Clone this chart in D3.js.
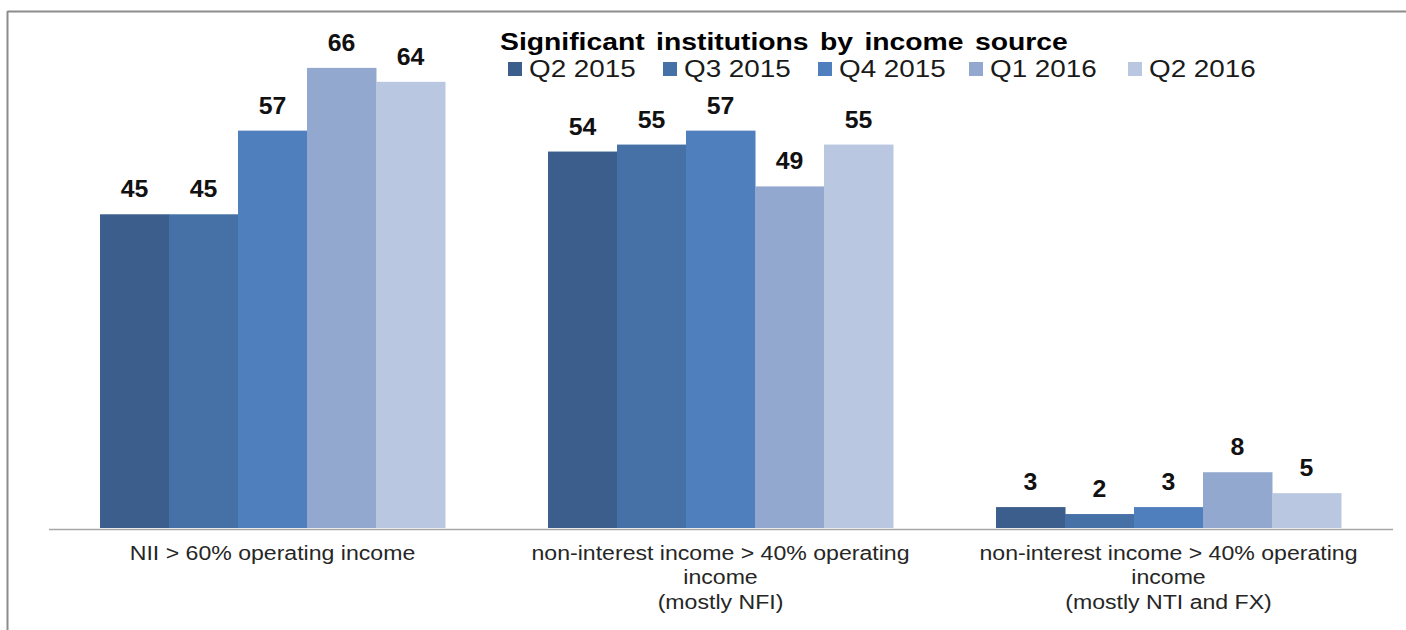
<!DOCTYPE html>
<html>
<head>
<meta charset="utf-8">
<script src="https://cdn.jsdelivr.net/npm/d3@7"></script>
<style>
  html, body { margin: 0; padding: 0; background: #fff; }
  svg { display: block; font-family: Arial, "Liberation Sans", sans-serif; }
</style>
</head>
<body>
<svg id="chart" width="1406" height="630"></svg>
<script>
// Income-source categories (multi-line labels)
const categories = [
  ["NII > 60% operating income"],
  ["non-interest income > 40% operating", "income", "(mostly NFI)"],
  ["non-interest income > 40% operating", "income", "(mostly NTI and FX)"]
];
const categoryKeys = ["nii", "nfi", "ntifx"];

// Quarters shown in the legend
const quarters = ["Q2 2015", "Q3 2015", "Q4 2015", "Q1 2016", "Q2 2016"];

// Number of significant institutions per quarter, one array per category
const niiValues   = [45, 45, 57, 66, 64];
const nfiValues   = [54, 55, 57, 49, 55];
const ntifxValues = [3, 2, 3, 8, 5];

const seriesColors = ["#3b5e8c", "#4571a6", "#4f7fbd", "#93a8cf", "#b9c7e1"];

const chartTitle = "Significant institutions by income source";

const valuesByCategory = [niiValues, nfiValues, ntifxValues];

const svg = d3.select("#chart");

// Frame lines along the top and left
svg.append("line").attr("x1", 7.5).attr("x2", 1406).attr("y1", 11.5).attr("y2", 11.5)
  .attr("stroke", "#8c8c8c").attr("stroke-width", 2);
svg.append("line").attr("x1", 7.5).attr("x2", 7.5).attr("y1", 11).attr("y2", 630)
  .attr("stroke", "#8c8c8c").attr("stroke-width", 2);

// Scales
const x0 = d3.scaleBand()
  .domain(categoryKeys)
  .range([48.5, 1392.5])
  .paddingInner(0.23)
  .paddingOuter(0.115);

const x1 = d3.scaleBand()
  .domain(quarters)
  .range([0, x0.bandwidth()])
  .padding(0);

const y = d3.scaleLinear().domain([0, 70]).range([528, 40]);

// Bars
const groups = svg.append("g").selectAll("g")
  .data(categoryKeys)
  .join("g")
  .attr("transform", d => `translate(${x0(d)},0)`);

groups.selectAll("rect")
  .data((d, i) => valuesByCategory[i].map((v, j) => ({ q: quarters[j], v, j })))
  .join("rect")
  .attr("x", d => x1(d.q))
  .attr("width", x1.bandwidth() + 0.5)
  .attr("y", d => y(d.v))
  .attr("height", d => y(0) - y(d.v))
  .attr("fill", d => seriesColors[d.j]);

// Value labels above bars
groups.selectAll("text.val")
  .data((d, i) => valuesByCategory[i].map((v, j) => ({ q: quarters[j], v, j })))
  .join("text")
  .attr("class", "val")
  .attr("transform", d => `translate(${x1(d.q) + x1.bandwidth() / 2},${y(d.v) - 17}) scale(1.08,1)`)
  .attr("text-anchor", "middle")
  .attr("font-size", 23)
  .attr("font-weight", "bold")
  .attr("fill", "#111")
  .text(d => d.v);

// Category axis
const xAxis = d3.axisBottom(x0).tickSize(0).tickSizeOuter(0).tickFormat("");
const axisG = svg.append("g").attr("transform", `translate(0,${y(0) + 1})`).call(xAxis);
axisG.select(".domain").attr("stroke", "#a6a6a6").attr("stroke-width", 1.5);

const catLabels = svg.append("g").selectAll("text")
  .data(categoryKeys)
  .join("text")
  .attr("text-anchor", "middle")
  .attr("font-size", 21)
  .attr("fill", "#262626");

catLabels.each(function (d, i) {
  const cx = x0(d) + x0.bandwidth() / 2;
  d3.select(this).selectAll("tspan")
    .data(categories[i])
    .join("tspan")
    .attr("x", 0)
    .attr("dy", (t, k) => k === 0 ? 0 : 24.5)
    .text(t => t);
  d3.select(this).attr("transform", `translate(${cx},560) scale(1.1,1)`);
});

// Title
svg.append("text")
  .attr("transform", "translate(500,50) scale(1.18,1)")
  .attr("font-size", 24)
  .attr("font-weight", "bold")
  .attr("word-spacing", 3)
  .attr("fill", "#000")
  .text(chartTitle);

// Legend
const legendX = [508, 663, 818, 969, 1128];
const legend = svg.append("g").selectAll("g")
  .data(quarters)
  .join("g")
  .attr("transform", (d, i) => `translate(${legendX[i]},0)`);

legend.append("rect")
  .attr("x", 0).attr("y", 62).attr("width", 14).attr("height", 14)
  .attr("fill", (d, i) => seriesColors[i]);

legend.append("text")
  .attr("transform", "translate(21,77) scale(1.16,1)")
  .attr("font-size", 24)
  .attr("fill", "#1a1a1a")
  .text(d => d);
</script>
</body>
</html>
